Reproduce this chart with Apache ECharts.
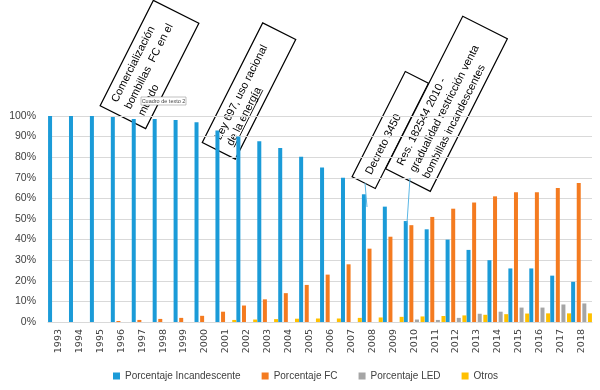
<!DOCTYPE html>
<html><head><meta charset="utf-8">
<script src="https://cdn.jsdelivr.net/npm/echarts@6/dist/echarts.min.js"></script>
<style>html,body{margin:0;padding:0;background:#fff}#c{width:600px;height:390px}</style>
</head><body><div id="c"></div>
<script>
var years = ['1993','1994','1995','1996','1997','1998','1999','2000','2001','2002','2003','2004','2005','2006','2007','2008','2009','2010','2011','2012','2013','2014','2015','2016','2017','2018'];
var incandescente = [100,100,100,99.5,98.5,98.5,98,97,93,90,87.8,84.5,80.2,75,70,62,56,49,45,40,35,30,26,26,22.5,19.5];
var fc = [0,0,0,0.5,1,1.5,2,3,5,8,11,14,18,23,28,35.6,41.4,47,51,55,58,61,63,63,65,67.5];
var led = [0,0,0,0,0,0,0,0,0,0,0,0,0,0,0,0,0,1.2,1,2,4,5,7,7,8.5,9];
var otros = [0,0,0,0,0,0,0,0,1,1.2,1.4,1.6,1.7,1.7,2,2.2,2.5,2.7,2.9,3.2,3.5,3.8,4.1,4.2,4.2,4.2];
var seriesNames = ['Porcentaje Incandescente','Porcentaje FC','Porcentaje LED','Otros'];
var colors = ['#1b9bd8','#f47b20','#a5a5a5','#ffc000'];

var chart = echarts.init(document.getElementById('c'));
var font = 'Liberation Sans';
function box(cx, cy, w, h, lines, fs, lh, underline) {
  var ch = [
    { type: 'rect', shape: { x: -w/2, y: -h/2, width: w, height: h },
      style: { fill: '#fff', stroke: '#000', lineWidth: 1.2 } },
    { type: 'text', x: -w/2 + 10, y: 0.5,
      style: { text: lines.join('\n'), fill: '#000', font: fs + 'px ' + font,
        align: 'left', verticalAlign: 'middle', lineHeight: lh } }
  ];
  if (underline) {
    ch.push({ type: 'line', shape: { x1: -w/2 + 10, y1: 12, x2: -w/2 + 10 + underline, y2: 12 },
      style: { stroke: '#000', lineWidth: 0.8 } });
  }
  return { type: 'group', x: cx, y: cy, rotation: 63.2 * Math.PI / 180, z: 100, children: ch };
}
var datas = [incandescente, fc, led, otros];
chart.setOption({
  animation: false,
  color: colors,
  grid: { left: 48, right: 8, top: 116, bottom: 68 },
  xAxis: {
    type: 'category', data: years,
    axisTick: { show: false },
    axisLine: { lineStyle: { color: '#d9d9d9' } },
    axisLabel: { rotate: 90, color: '#404040', fontSize: 9.5, fontFamily: 'DejaVu Sans', margin: 7 }
  },
  yAxis: {
    type: 'value', min: 0, max: 100, interval: 10,
    axisLabel: { formatter: '{value}%', color: '#404040', fontSize: 10.5, fontFamily: font, margin: 12 },
    splitLine: { lineStyle: { color: '#d9d9d9' } },
    axisLine: { show: false }, axisTick: { show: false }
  },
  legend: {
    top: 366, left: 108, itemWidth: 7, itemHeight: 7, itemGap: 21,
    icon: 'rect',
    textStyle: { color: '#404040', fontSize: 10, fontFamily: font },
    data: seriesNames
  },
  series: seriesNames.map(function (n, i) {
    return { name: n, type: 'bar', data: datas[i], barWidth: 4, barGap: '40%' };
  }),
  graphic: [
    box(149.5, 64.5, 118, 51, ['Comercialización', 'bombillas  FC en el', 'mundo'], 11, 15),
    box(249, 91, 134, 37, ['Ley 697, uso racional', 'de la energía'], 11, 13.5, 64),
    { type: 'line', shape: { x1: 365, y1: 183, x2: 367, y2: 207 }, style: { stroke: '#5bb7e5', lineWidth: 1 }, z: 99 },
    { type: 'line', shape: { x1: 410, y1: 178, x2: 407, y2: 223 }, style: { stroke: '#5bb7e5', lineWidth: 1 }, z: 99 },
    box(390.3, 130, 118, 26, ['Decreto 3450'], 11, 15),
    box(446.5, 103.8, 171, 50, ['Res. 182544 2010 -', 'gradualidad restricción venta', 'bombillas incandescentes'], 11, 14.5),
    { type: 'group', x: 141, y: 97, z: 110, children: [
      { type: 'rect', shape: { x: 0, y: 0, width: 45, height: 8 }, style: { fill: '#fff', stroke: '#999', lineWidth: 0.6 } },
      { type: 'text', x: 22.5, y: 4, style: { text: 'Cuadro de texto 2', font: '5.5px ' + font, fill: '#444', align: 'center', verticalAlign: 'middle' } }
    ]}
  ]
});
</script></body></html>
